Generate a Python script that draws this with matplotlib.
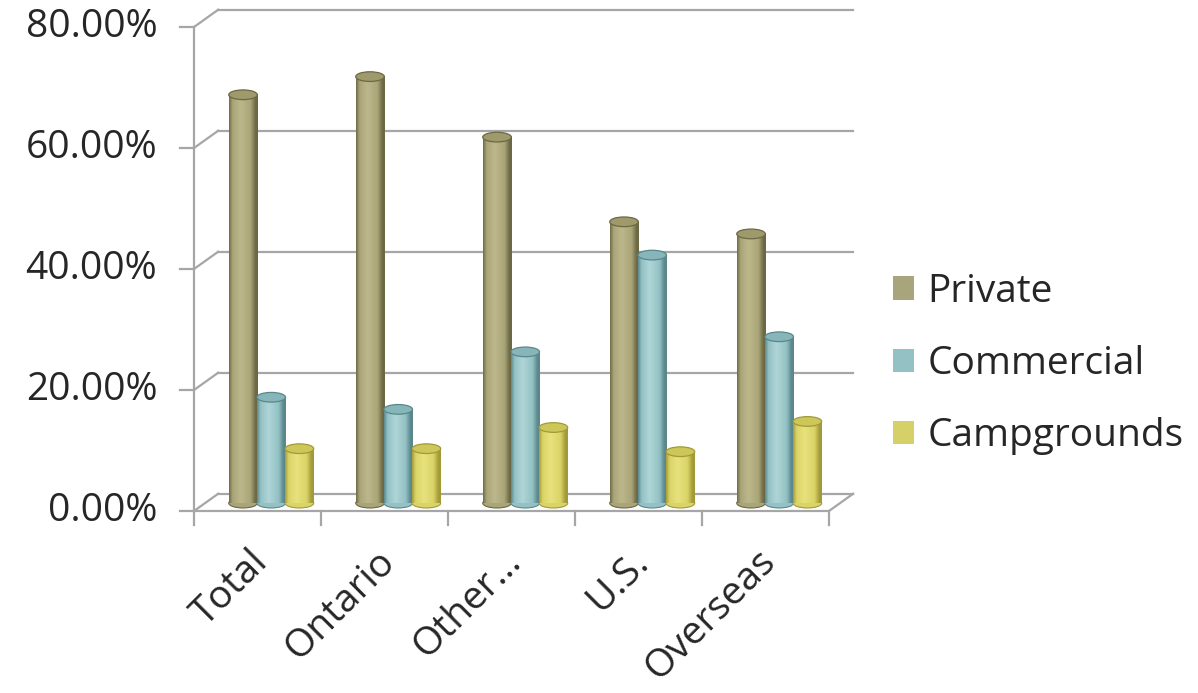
import matplotlib
matplotlib.use('Agg')
import matplotlib.pyplot as plt
import numpy as np
from matplotlib.patches import Ellipse, Patch
from matplotlib.colors import LinearSegmentedColormap

plt.rcParams['font.family'] = ['Open Sans', 'DejaVu Sans']

categories = ['Total', 'Ontario', 'Other…', 'U.S.', 'Overseas']
series_names = ['Private', 'Commercial', 'Campgrounds']
private = [67.5, 70.5, 60.5, 46.5, 44.5]
commercial = [17.5, 15.5, 25.0, 41.0, 27.5]
campgrounds = [9.0, 9.0, 12.5, 8.5, 13.5]
y_ticks = [0, 20, 40, 60, 80]
y_tick_labels = ['0.00%', '20.00%', '40.00%', '60.00%', '80.00%']

# shading for the cylinders: (edge, base, highlight, top face, legend)
styles = {
    'Private': ('#6c6844', '#a9a578', '#bcb88b', '#9e9a6c', '#a8a47c'),
    'Commercial': ('#5a878b', '#93c1c4', '#afd5d7', '#86b6b9', '#93c1c4'),
    'Campgrounds': ('#a29a38', '#dad366', '#e8e27e', '#cdc658', '#d6d068'),
}
text_c = '#262626'
fs = 28

W, H = 1198, 693
fig = plt.figure(figsize=(W / 100, H / 100), dpi=100)
ax = fig.add_axes([0, 0, 1, 1])
ax.set_axis_off()

# map data units to the picture: one category = 127 px, 1% = 6.05 px
px_x, px_y = 127.0, 6.05
x0px, y0px = 194, 511
xlim = (-x0px / px_x, (W - x0px) / px_x)
ylim = (-(H - y0px) / px_y, y0px / px_y)

# depth of the fake 3d box
dx, dy = 0.19, 2.85
grid_c = '#a6a6a6'
lw = 1.6
n = len(categories)

# back wall gridlines + diagonals from the front axis
for v, lab in zip(y_ticks, y_tick_labels):
    ax.plot([dx, n + dx], [v + dy, v + dy], color=grid_c, lw=lw, zorder=1)
    ax.plot([0, dx], [v, v + dy], color=grid_c, lw=lw, zorder=1)
    ax.plot([-0.11, 0], [v, v], color=grid_c, lw=lw, zorder=1)
    ax.text(-0.29, v, lab, ha='right', va='center', fontsize=fs, color=text_c)
# front axis and floor
ax.plot([0, 0], [0, y_ticks[-1]], color=grid_c, lw=lw, zorder=1)
ax.plot([0, n], [0, 0], color=grid_c, lw=lw, zorder=1)
ax.plot([n, n + dx], [0, dy], color=grid_c, lw=lw, zorder=1)
for i in range(n + 1):
    ax.plot([i, i], [0, -2.3], color=grid_c, lw=lw, zorder=1)

# cylinders
bar_w = 0.225
offsets = [0.386, 0.608, 0.830]
base = 1.3
ell_h = 1.6
grad = np.linspace(0, 1, 128).reshape(1, -1)
for k, (name, vals) in enumerate(zip(series_names, [private, commercial, campgrounds])):
    edge, mid, light, top, _ = styles[name]
    cmap = LinearSegmentedColormap.from_list(
        name, [(0, edge), (0.12, mid), (0.4, light), (0.75, mid), (0.92, edge), (1, edge)])
    z = 3 + k * 3
    for i, v in enumerate(vals):
        xc = i + offsets[k]
        xl, xr = xc - bar_w / 2, xc + bar_w / 2
        ax.add_patch(Ellipse((xc, base), bar_w, ell_h, facecolor=mid,
                             edgecolor=edge, lw=0.8, zorder=z))
        ax.imshow(grad, extent=(xl, xr, base, base + v), cmap=cmap, aspect='auto',
                  interpolation='bicubic', zorder=z + 0.1)
        ax.add_patch(Ellipse((xc, base + v), bar_w, ell_h, facecolor=top,
                             edgecolor=edge, lw=0.9, zorder=z + 0.2))

# category labels
for i, c in enumerate(categories):
    ax.text(i + 0.43, -5.2, c, rotation=45, ha='right', va='top',
            rotation_mode='anchor', fontsize=28, color=text_c)

handles = [Patch(facecolor=styles[s][4], edgecolor='none') for s in series_names]
ax.legend(handles, series_names, loc='center left',
          bbox_to_anchor=(893 / W, (H - 364) / H), bbox_transform=fig.transFigure,
          frameon=False, fontsize=fs, handlelength=0.55, handleheight=0.55,
          handletextpad=0.33, labelspacing=0.88, borderpad=0, borderaxespad=0,
          labelcolor=text_c)

ax.set_xlim(*xlim)
ax.set_ylim(*ylim)
fig.savefig('out.png', dpi=100)
